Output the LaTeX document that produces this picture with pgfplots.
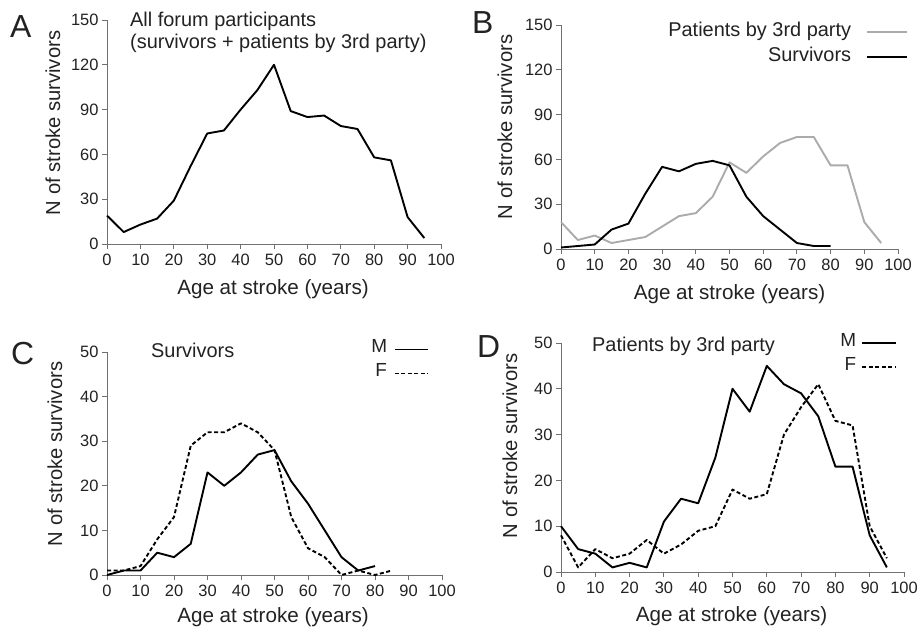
\documentclass[border=0pt]{standalone}
\usepackage{pgfplots}
\pgfplotsset{compat=1.18}
\usepackage{fontspec}
\setmainfont{Liberation Sans}
\definecolor{axc}{HTML}{707070}
\definecolor{txt}{HTML}{222222}
\definecolor{grayline}{HTML}{ABABAB}
\pgfplotsset{
 every tick label/.append style={font=\fontsize{16.5}{19}\selectfont, text=txt},
 base/.style={
  scale only axis,
  axis lines=left,
  axis line style={axc, line width=0.9bp, -},
  tick style={axc, line width=0.9bp},
  tick align=outside, major tick length=5bp,
  xmin=0, xmax=100, xtick={0,10,...,100},
  ymin=0,
  xticklabel style={yshift=-2bp},
  /pgf/number format/assume math mode=true,
  clip=false,
  anchor=south west,
  legend plot pos=right,
  legend cell align=right,
 },
 dat/.style={black, line width=1.9bp, line join=round},
 dsh/.style={black, line width=1.9bp, line join=round, dash pattern=on 4bp off 2.5bp},
}
\newcommand\lab[1]{\fontsize{20}{24}\selectfont #1}
\newcommand\xlab[1]{\fontsize{20.7}{24}\selectfont #1}
\newcommand\ylab[1]{\fontsize{20.3}{24}\selectfont #1}
\begin{document}
\begin{tikzpicture}[x=1bp,y=1bp, every node/.style={text=txt}]
\useasboundingbox (0,0) rectangle (921,631);

% ---------- A ----------
\begin{axis}[base, at={(107bp,387bp)}, width=334bp, height=224bp,
  ymax=150, ytick={0,30,...,150}]
\addplot[dat] coordinates {(0,19)(5,8)(10,13)(15,17)(20,29)(25,52)(30,74)(35,76)(40,90)(45,103)(50,120)(55,89)(60,85)(65,86)(70,79)(75,77)(80,58)(85,56)(90,18)(95,4)};
\end{axis}

% ---------- B ----------
\begin{axis}[base, at={(561bp,382bp)}, width=337bp, height=224bp,
  ymax=150, ytick={0,30,...,150},
  legend style={draw=none, fill=none, inner sep=0pt, outer sep=0pt,
    at={(1.0297,1.0147)}, anchor=north east,
    font=\fontsize{20}{24}\selectfont, row sep=5bp, column sep=15bp,
    nodes={inner sep=0pt, text height=15bp, text depth=5bp, text=txt}},
  legend image code/.code={\draw[#1] (0bp,0bp) -- (40bp,0bp);}]
\addplot[grayline, line width=1.9bp, line join=round] coordinates {(0,18)(5,6)(10,9)(15,4)(20,6)(25,8)(30,15)(35,22)(40,24)(45,35)(50,58)(55,51)(60,62)(65,71)(70,75)(75,75)(80,56)(85,56)(90,18)(95,4)};
\addlegendentry{Patients by 3rd party}
\addplot[dat] coordinates {(0,1)(5,2)(10,3)(15,13)(20,17)(25,37)(30,55)(35,52)(40,57)(45,59)(50,56)(55,35)(60,22)(65,13)(70,4)(75,2)(80,2)};
\addlegendentry{Survivors}
\end{axis}

% ---------- C ----------
\begin{axis}[base, at={(107bp,56bp)}, width=335bp, height=223bp,
  ymax=50, ytick={0,10,...,50},
  legend style={draw=none, fill=none, inner sep=0pt, outer sep=0pt,
    at={(0.961,1.0605)}, anchor=north east,
    font=\fontsize{19}{23}\selectfont, row sep=6bp, column sep=7bp,
    nodes={inner sep=0pt, text height=14bp, text depth=4bp, text=txt}},
  legend image code/.code={\draw[#1] (0bp,-2bp) -- (33bp,-2bp);}]
\addplot[dat] coordinates {(0,0)(5,1)(10,1)(15,5)(20,4)(25,7)(30,23)(35,20)(40,23)(45,27)(50,28)(55,21)(60,16)(65,10)(70,4)(75,1)(80,2)};
\addlegendentry{M}
\addplot[dsh] coordinates {(0,1)(5,1)(10,2)(15,8)(20,13)(25,29)(30,32)(35,32)(40,34)(45,32)(50,28)(55,13)(60,6)(65,4)(70,0)(75,1)(80,0)(85,1)};
\addlegendentry{F}
\end{axis}

% ---------- D ----------
\begin{axis}[base, at={(561bp,59bp)}, width=343bp, height=229bp,
  ymax=50, ytick={0,10,...,50},
  legend style={draw=none, fill=none, inner sep=0pt, outer sep=0pt,
    at={(0.9796,1.0437)}, anchor=north east,
    font=\fontsize{19}{23}\selectfont, row sep=6bp, column sep=5bp,
    nodes={inner sep=0pt, text height=14bp, text depth=4bp, text=txt}},
  legend image code/.code={\draw[#1] (0bp,-1bp) -- (34bp,-1bp);}]
\addplot[dat] coordinates {(0,10)(5,5)(10,4)(15,1)(20,2)(25,1)(30,11)(35,16)(40,15)(45,25)(50,40)(55,35)(60,45)(65,41)(70,39)(75,34)(80,23)(85,23)(90,8)(95,1)};
\addlegendentry{M}
\addplot[dsh] coordinates {(0,8)(5,1)(10,5)(15,3)(20,4)(25,7)(30,4)(35,6)(40,9)(45,10)(50,18)(55,16)(60,17)(65,30)(70,36)(75,41)(80,33)(85,32)(90,10)(95,3)};
\addlegendentry{F}
\end{axis}

% ---------- texts ----------
\node[anchor=base west, inner sep=0pt] at (10,593) {\fontsize{32}{36}\selectfont A};
\node[anchor=base west, inner sep=0pt] at (130,604) {\lab{All forum participants}};
\node[anchor=base west, inner sep=0pt] at (130,582) {\lab{(survivors + patients by 3rd party)}};
\node[rotate=90, inner sep=0pt] at (53,508) {\ylab{N of stroke survivors}};
\node[anchor=base, inner sep=0pt] at (273,336) {\xlab{Age at stroke (years)}};

\node[anchor=base west, inner sep=0pt] at (472,597) {\fontsize{32}{36}\selectfont B};
\node[rotate=90, inner sep=0pt] at (505,504) {\ylab{N of stroke survivors}};
\node[anchor=base, inner sep=0pt] at (729.5,331) {\xlab{Age at stroke (years)}};

\node[anchor=base west, inner sep=0pt] at (11,266) {\fontsize{32}{36}\selectfont C};
\node[anchor=base west, inner sep=0pt] at (151,273) {\lab{Survivors}};
\node[rotate=90, inner sep=0pt] at (55,177) {\ylab{N of stroke survivors}};
\node[anchor=base, inner sep=0pt] at (273,8) {\xlab{Age at stroke (years)}};

\node[anchor=base west, inner sep=0pt] at (477,273) {\fontsize{32}{36}\selectfont D};
\node[anchor=base west, inner sep=0pt] at (592,279) {\lab{Patients by 3rd party}};
\node[rotate=90, inner sep=0pt] at (510,185) {\ylab{N of stroke survivors}};
\node[anchor=base, inner sep=0pt] at (731.5,9) {\xlab{Age at stroke (years)}};
\end{tikzpicture}
\end{document}
